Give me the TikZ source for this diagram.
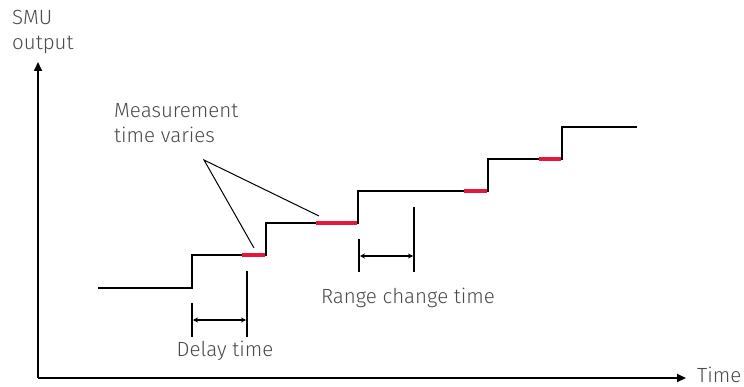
\documentclass[tikz,border=0pt]{standalone}
\usepackage{fontspec}
\setmainfont{Fira Sans Light}
\usetikzlibrary{arrows.meta}
\definecolor{txt}{HTML}{4A4A4A}
\definecolor{meas}{HTML}{E8163A}
\tikzset{
  lbl/.style={text=txt,font=\fontsize{20.5}{25}\selectfont,inner sep=0pt},
  axis/.style={line width=2.2pt,-{Triangle[length=9pt,width=8pt]}},
  wave/.style={line width=1.8pt,line join=miter},
  measbar/.style={line width=4.5pt,meas},
  tick/.style={line width=1.6pt},
  span/.style={line width=1.6pt,{Stealth[length=5pt,width=5pt]}-{Stealth[length=5pt,width=5pt]}},
  pointer/.style={line width=1pt}
}
\begin{document}
\begin{tikzpicture}[x=1pt,y=-1pt]
\useasboundingbox (0,0) rectangle (744,387);
% axes
\coordinate (o) at (38,378);
\coordinate (ytop) at (38,62);
\coordinate (xend) at (686,378);
\draw[axis] (o) -- (ytop);
\draw[axis] (o) -- (xend);
\node[lbl,anchor=base west,align=left] (ylab) at (12,50) {SMU\\output};
\node[lbl,anchor=base west] (xlab) at (697,382) {Time};
% waveform
\draw[wave] (98,288) -- (192,288) -- (192,255) -- (266,255) -- (266,223)
  -- (358,223) -- (358,191) -- (488,191) -- (488,159) -- (562,159)
  -- (562,127) -- (637,127);
% measurement bars
\draw[measbar] (242,255) -- (265,255);
\draw[measbar] (316,223) -- (357,223);
\draw[measbar] (464,191) -- (487,191);
\draw[measbar] (539,159) -- (561,159);
% pointer label
\node[lbl,anchor=base west,align=left] (mlab) at (114,143) {Measurement\\time varies};
\coordinate (apex) at (204,160);
\coordinate (p1) at (254,248);
\coordinate (p2) at (319,216);
\draw[pointer] (p1) -- (apex) -- (p2);
% delay time
\coordinate (d1a) at (192,303); \coordinate (d1b) at (192,337);
\coordinate (d2a) at (247,271); \coordinate (d2b) at (247,337);
\draw[tick] (d1a) -- (d1b);
\draw[tick] (d2a) -- (d2b);
\coordinate (da) at (193,320); \coordinate (db) at (246,320);
\draw[span] (da) -- (db);
\node[lbl,anchor=base] (dlab) at (225,356) {Delay time};
% range change time
\coordinate (r1a) at (359,239); \coordinate (r1b) at (359,272);
\coordinate (r2a) at (414,207); \coordinate (r2b) at (414,272);
\draw[tick] (r1a) -- (r1b);
\draw[tick] (r2a) -- (r2b);
\coordinate (ra) at (360,256); \coordinate (rb) at (413,256);
\draw[span] (ra) -- (rb);
\node[lbl,anchor=base] (rlab) at (408,303) {Range change time};
\end{tikzpicture}
\end{document}
